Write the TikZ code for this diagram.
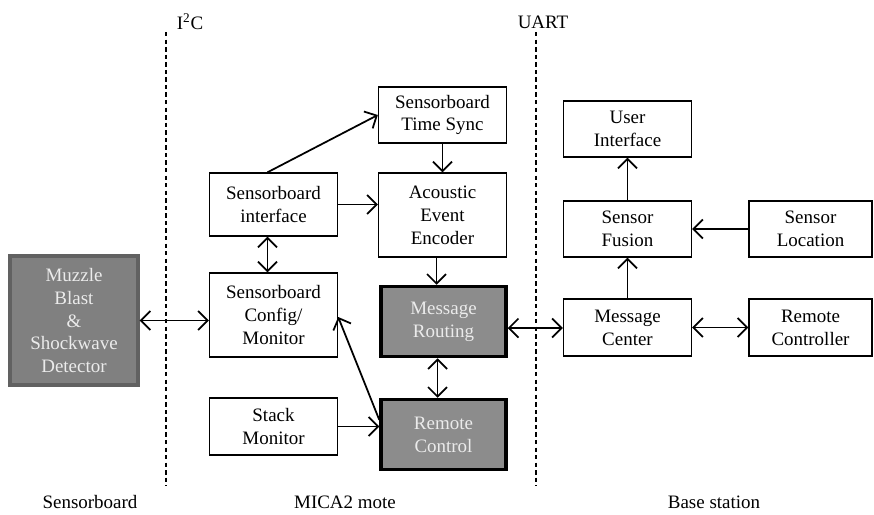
\documentclass[tikz,border=0pt]{standalone}
\usepackage{fontspec}
\setmainfont{Liberation Serif}
\usetikzlibrary{arrows.meta,calc}

\tikzset{
  block/.style={draw, line width=0.8pt, fill=white, align=center,
    minimum width=2.56cm, font=\fontsize{10.8}{13}\selectfont},
  darkblock/.style={block, fill=black!45, draw=black, line width=2pt,
    text=black!8},
  detector/.style={block, fill=black!50, draw=black!62, line width=1.8pt,
    text=black!8},
  border/.style={dashed, line width=0.8pt, dash pattern=on 2.5pt off 1.8pt},
  link/.style={line width=1pt, >={Straight Barb[length=1.9mm,width=3.8mm]}},
  caption/.style={font=\fontsize{10.8}{13}\selectfont}
}

\begin{document}
\begin{tikzpicture}[x=0.02cm, y=-0.02cm]
    \useasboundingbox (0,0) rectangle (874,514);

    % Interface boundaries
    \draw[border] (166,32) -- (166,486);
    \draw[border] (536,32) -- (536,486);
    \node[caption] (i2c) at (190,22) {I\textsuperscript{2}C};
    \node[caption] (uart) at (543,22) {UART};

    % Sensorboard
    \node[detector, minimum width=2.56cm, minimum height=2.58cm] (muzzle) at (74,320.5)
        {Muzzle\\Blast\\\&\\Shockwave\\Detector};

    % MICA2 mote
    \node[block, minimum height=1.12cm] (sync) at (442.5,115) {Sensorboard\\Time Sync};
    \node[block, minimum height=1.26cm] (iface) at (273.5,204.5) {Sensorboard\\interface};
    \node[block, minimum height=1.68cm] (encoder) at (442.5,215) {Acoustic\\Event\\Encoder};
    \node[block, minimum height=1.68cm] (config) at (273.5,315) {Sensorboard\\Config/\\Monitor};
    \node[darkblock, minimum width=2.50cm, minimum height=1.40cm] (routing) at (443.5,321.5) {Message\\Routing};
    \node[block, minimum height=1.14cm] (stack) at (273.5,426.5) {Stack\\Monitor};
    \node[darkblock, minimum width=2.50cm, minimum height=1.40cm] (control) at (443.5,434.5) {Remote\\Control};

    % Base station
    \node[block, minimum height=1.12cm] (ui) at (627.5,129) {User\\Interface};
    \node[block, minimum height=1.12cm] (fusion) at (627.5,229) {Sensor\\Fusion};
    \node[block, minimum width=2.46cm, minimum height=1.12cm] (location) at (810.5,229) {Sensor\\Location};
    \node[block, minimum height=1.14cm] (center) at (627.5,327.5) {Message\\Center};
    \node[block, minimum width=2.46cm, minimum height=1.14cm] (remote) at (810.5,327.5) {Remote\\Controller};

    % Bottom captions
    \node[caption] (cap1) at (90,502) {Sensorboard};
    \node[caption] (cap2) at (345,502) {MICA2 mote};
    \node[caption] (cap3) at (714,502) {Base station};

    % Connectors
    \draw[link,<->] (muzzle.east) -- (muzzle.east -| config.west);
    \draw[link,->] ([xshift=-0.12cm]iface.north) -- (sync.west);
    \draw[link,->] (iface.east) -- (iface.east -| encoder.west);
    \draw[link,->] (sync.south) -- (encoder.north);
    \draw[link,<->] ([xshift=-0.12cm]iface.south) -- ([xshift=-0.12cm]config.north);
    \draw[link,->] ([xshift=-0.12cm]encoder.south) -- ([xshift=-0.12cm]encoder.south |- routing.north);
    \draw[link,<->] ([xshift=-0.12cm]routing.south) -- ([xshift=-0.12cm]control.north);
    \draw[link,->] ($(control.north west)!0.3!(control.south west)$) -- ([yshift=-0.04cm]config.east);
    \draw[link,->] (stack.east) -- (stack.east -| control.west);
    \coordinate (mid) at (536,328);
    \draw[link,<->] (mid -| routing.east) -- (mid -| center.west);
    \draw[link,<->] (center.east) -- (remote.west);
    \draw[link,->] (center.north) -- (fusion.south);
    \draw[link,->] (fusion.north) -- (ui.south);
    \draw[link,->] (location.west) -- (fusion.east);
\end{tikzpicture}
\end{document}
